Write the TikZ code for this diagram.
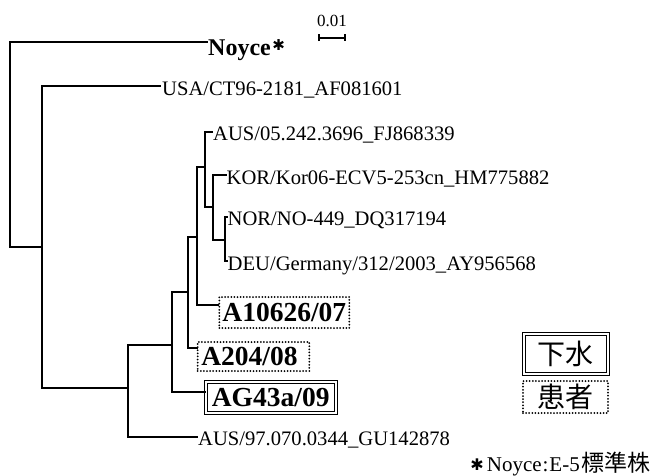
\documentclass[tikz,border=0pt]{standalone}
\usepackage{fontspec}
\setmainfont{Liberation Serif}
\newfontfamily\cjk{Noto Sans CJK JP}
\newfontfamily\symb{DejaVu Sans}
\usetikzlibrary{arrows.meta}
\begin{document}
\begin{tikzpicture}[x=1pt,y=-1pt,
  branch/.style={line width=2.3pt, line cap=rect, line join=miter},
  leaf/.style={anchor=base west, inner sep=0pt, font=\fontsize{20.6}{22}\selectfont},
  boldlab/.style={font=\fontsize{27.5}{30}\selectfont\bfseries, inner sep=0pt, anchor=north west},
  dotbox/.style={draw, line width=2pt, dash pattern=on 0pt off 3.1pt, line cap=round},
  dblbox/.style={draw, double, line width=1.4pt, double distance=1.6pt},
  legend/.style={font=\cjk\fontsize{28}{30}\selectfont, inner sep=0pt, anchor=north west},
]
\useasboundingbox (0,0) rectangle (656,475);

% internal nodes
\coordinate (root) at (10,145);
\coordinate (n1) at (42,247);
\coordinate (n2) at (128.3,388.3);
\coordinate (n3) at (171.7,345);
\coordinate (n4) at (188.3,292);
\coordinate (n5) at (196.7,236.7);
\coordinate (n6) at (205,167.3);
\coordinate (n7) at (213.3,206.7);
\coordinate (n8) at (225,240);

% leaf tips
\coordinate (tNoyce) at (207,41.7);
\coordinate (tUSA) at (160,86);
\coordinate (tAUS05) at (211.7,131.7);
\coordinate (tKOR) at (225.5,175);
\coordinate (tNOR) at (226.5,216.7);
\coordinate (tDEU) at (226.5,261);
\coordinate (tA10626) at (218.3,305);
\coordinate (tA204) at (196.7,348.3);
\coordinate (tAG43a) at (205,392);
\coordinate (tAUS97) at (196.7,436.7);

% labels
\node[anchor=base west, inner sep=0pt, font=\fontsize{24}{26}\selectfont\bfseries] (lNoyce) at (208,55)
  {Noyce\kern1.5pt\raisebox{5pt}{\symb\fontsize{15}{15}\selectfont ✱}};
\node[leaf] (lUSA) at (162,95) {USA/CT96-2181\_AF081601};
\node[leaf] (lAUS05) at (213,140.7) {AUS/05.242.3696\_FJ868339};
\node[leaf] (lKOR) at (226.5,184) {KOR/Kor06-ECV5-253cn\_HM775882};
\node[leaf] (lNOR) at (227.5,225.7) {NOR/NO-449\_DQ317194};
\node[leaf] (lDEU) at (227.5,270) {DEU/Germany/312/2003\_AY956568};
\node[leaf] (lAUS97) at (198,445.7) {AUS/97.070.0344\_GU142878};

\node[boldlab, dotbox, minimum width=130pt, minimum height=31pt] (bA10626) at (218.3,296) {A10626/07};
\node[boldlab, dotbox, minimum width=111.6pt, minimum height=29pt] (bA204) at (196.7,341) {A204/08\kern8pt};
\node[boldlab, dblbox, minimum width=130pt, minimum height=31pt] (bAG43a) at (205,381) {AG43a/09};

% branches
\draw[branch] (root) |- (tNoyce);
\draw[branch] (root) |- (n1);
\draw[branch] (n1) |- (tUSA);
\draw[branch] (n1) |- (n2);
\draw[branch] (n2) |- (n3);
\draw[branch] (n2) |- (tAUS97);
\draw[branch] (n3) |- (n4);
\draw[branch] (n3) |- (tAG43a);
\draw[branch] (n4) |- (n5);
\draw[branch] (n4) |- (tA204);
\draw[branch] (n5) |- (n6);
\draw[branch] (n5) |- (tA10626);
\draw[branch] (n6) |- (tAUS05);
\draw[branch] (n6) |- (n7);
\draw[branch] (n7) |- (tKOR);
\draw[branch] (n7) |- (n8);
\draw[branch] (n8) |- (tNOR);
\draw[branch] (n8) |- (tDEU);

% scale bar
\node[font=\fontsize{17}{18}\selectfont, inner sep=0pt] (sbtxt) at (332,21) {0.01};
\coordinate (sbL) at (318,37.7);
\coordinate (sbR) at (346,37.7);
\draw[line width=2pt, {Bar[width=7pt,line width=1.6pt]}-{Bar[width=7pt,line width=1.6pt]}] (sbL) -- (sbR);

% legend
\node[legend, dblbox, minimum width=84pt, minimum height=40pt] (gSewage) at (523,333) {下水};
\node[legend, dotbox, minimum width=85pt, minimum height=32pt] (gPatient) at (522,380) {患者};

% footnote
\node[anchor=base east, inner sep=0pt, font=\fontsize{21}{22}\selectfont] (foot) at (651,471)
  {{\symb\fontsize{16}{16}\selectfont\raisebox{1pt}{✱}}\kern3pt Noyce\kern1pt:\kern1pt E-5\kern2pt{\cjk\fontsize{23}{24}\selectfont 標準株}};
\end{tikzpicture}
\end{document}
